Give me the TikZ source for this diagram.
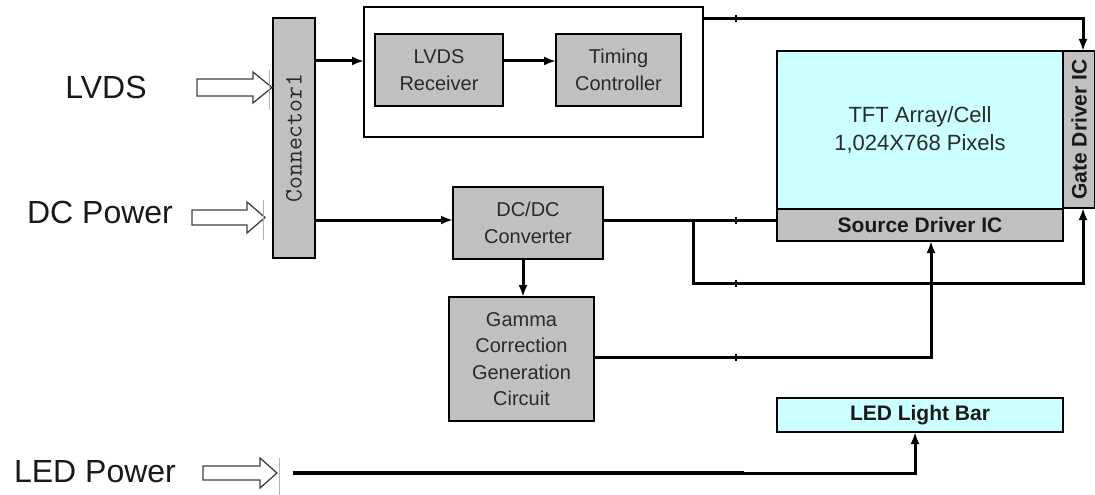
\documentclass[tikz,border=0pt]{standalone}
\usepackage{fontspec}
\setmainfont{Liberation Sans}
\usetikzlibrary{arrows.meta,calc}
\definecolor{boxgray}{HTML}{C0C0C0}
\definecolor{cellcyan}{HTML}{CCFFFF}
\definecolor{txtgray}{HTML}{2A2A2A}
\tikzset{
  blk/.style={draw=black, line width=2.2pt, fill=boxgray, align=center, inner sep=0pt, outer sep=0pt,
    text=txtgray, font=\fontsize{20}{26.5}\selectfont},
  cyanblk/.style={blk, fill=cellcyan},
  boldlbl/.style={font=\bfseries\fontsize{21}{21}\selectfont, text=black!90},
  wire/.style={line width=3pt, line join=miter},
  arr/.style={wire, -{Latex[length=12pt,width=9pt]}},
  hollow/.style={draw=black!75, line width=1.3pt, fill=white, line join=miter},
  ghost/.style={draw=black!30, line width=1pt},
  tickmark/.style={line width=1.5pt},
  biglbl/.style={font=\fontsize{32}{32}\selectfont, text=black!90}
}
\begin{document}
\begin{tikzpicture}[x=1pt,y=-1pt]
\useasboundingbox (0,0) rectangle (1095,495);

% boxes
\node[blk, minimum width=42pt, minimum height=240pt] (conn) at (294,138) {};
\node[rotate=90, font=\ttfamily\fontsize{25}{25}\selectfont, text=txtgray] (connlbl) at (conn.center) {Connector1};
\node[draw=black, line width=2pt, minimum width=339pt, minimum height=130pt, inner sep=0pt, outer sep=0pt] (outer) at (533.5,72) {};
\node[blk, minimum width=128pt, minimum height=72pt] (rx) at (439,70) {LVDS\\Receiver};
\node[blk, minimum width=125pt, minimum height=72pt] (tc) at (618.5,70) {Timing\\Controller};
\node[blk, minimum width=150pt, minimum height=72pt] (dc) at (528,223) {DC/DC\\Converter};
\node[blk, minimum width=145pt, minimum height=124pt] (gamma) at (521.5,359) {Gamma\\Correction\\Generation\\Circuit};
\node[cyanblk, minimum width=286pt, minimum height=158pt] (tft) at (920,130) {};
\node[text=txtgray, font=\fontsize{22}{28.5}\selectfont, align=center] (tftlbl) at (920,130) {TFT Array/Cell\\1,024X768 Pixels};
\node[blk, minimum width=286pt, minimum height=32pt] (src) at (920,225) {};
\node[boldlbl] (srclbl) at (src.center) {Source Driver IC};
\node[blk, minimum width=32pt, minimum height=157pt] (gate) at (1079,129.5) {};
\node[boldlbl, rotate=90] (gatelbl) at (gate.center) {Gate Driver IC};
\node[cyanblk, minimum width=286pt, minimum height=34pt] (led) at (920,415) {};
\node[boldlbl] (ledlbl) at (led.center) {LED Light Bar};

% input labels
\node[biglbl] (lvds) at (106,87) {LVDS};
\node[biglbl] (dcp) at (100,212) {DC Power};
\node[biglbl] (ledp) at (95,472) {LED Power};

% hollow input arrows
\draw[hollow] (197,79) -- (253,79) -- (253,72) -- (272,87.5) -- (253,103) -- (253,96) -- (197,96) -- cycle;
\draw[hollow] (192,210) -- (247,210) -- (247,202) -- (265,217.5) -- (247,233) -- (247,225) -- (192,225) -- cycle;
\draw[hollow] (203,466) -- (260,466) -- (260,458) -- (277,473) -- (260,488) -- (260,480) -- (203,480) -- cycle;
\draw[ghost] (269,70) -- (269,110);
\draw[ghost] (263,200) -- (263,240);
\draw[ghost] (279,458) -- (279,495);

% coordinates for connector routing
\coordinate (ya) at (0,61);
\coordinate (yb) at (0,220);
\coordinate (yt) at (0,19);
\coordinate (ybot) at (0,283);
\coordinate (yg) at (0,357);
\coordinate (yl) at (0,473);
\coordinate (xbr) at (693,0);
\coordinate (xg) at (1083,0);
\coordinate (xs) at (931,0);
\coordinate (xl) at (915,0);
\coordinate (xd) at (523,0);
\coordinate (ledstart) at (293,473);

% connectors
\draw[arr] (conn.east |- ya) -- (outer.west |- ya);
\draw[arr] (rx.east |- ya) -- (tc.west |- ya);
\draw[arr] (conn.east |- yb) -- (dc.west |- yb);
\draw[wire] (dc.east |- yb) -- (src.west |- yb);
\draw[arr] (xbr |- yb) -- (xbr |- ybot) -- (xg |- ybot) -- (gate.south -| xg);
\draw[arr] (outer.east |- yt) -- (xg |- yt) -- (gate.north -| xg);
\draw[arr] (dc.south -| xd) -- (gamma.north -| xd);
\draw[arr] (gamma.east |- yg) -- (xs |- yg) -- (src.south -| xs);
\draw[line width=4pt] (ledstart) -- (744,473);
\draw[arr] (ledstart) -- (xl |- yl) -- (led.south -| xl);

% small junction ticks
\foreach \yy in {19,220,283,357} \draw[tickmark] (736,\yy-3.5) -- (736,\yy+3.5);
\draw[tickmark] (273,38) -- (273,46);
\end{tikzpicture}
\end{document}
